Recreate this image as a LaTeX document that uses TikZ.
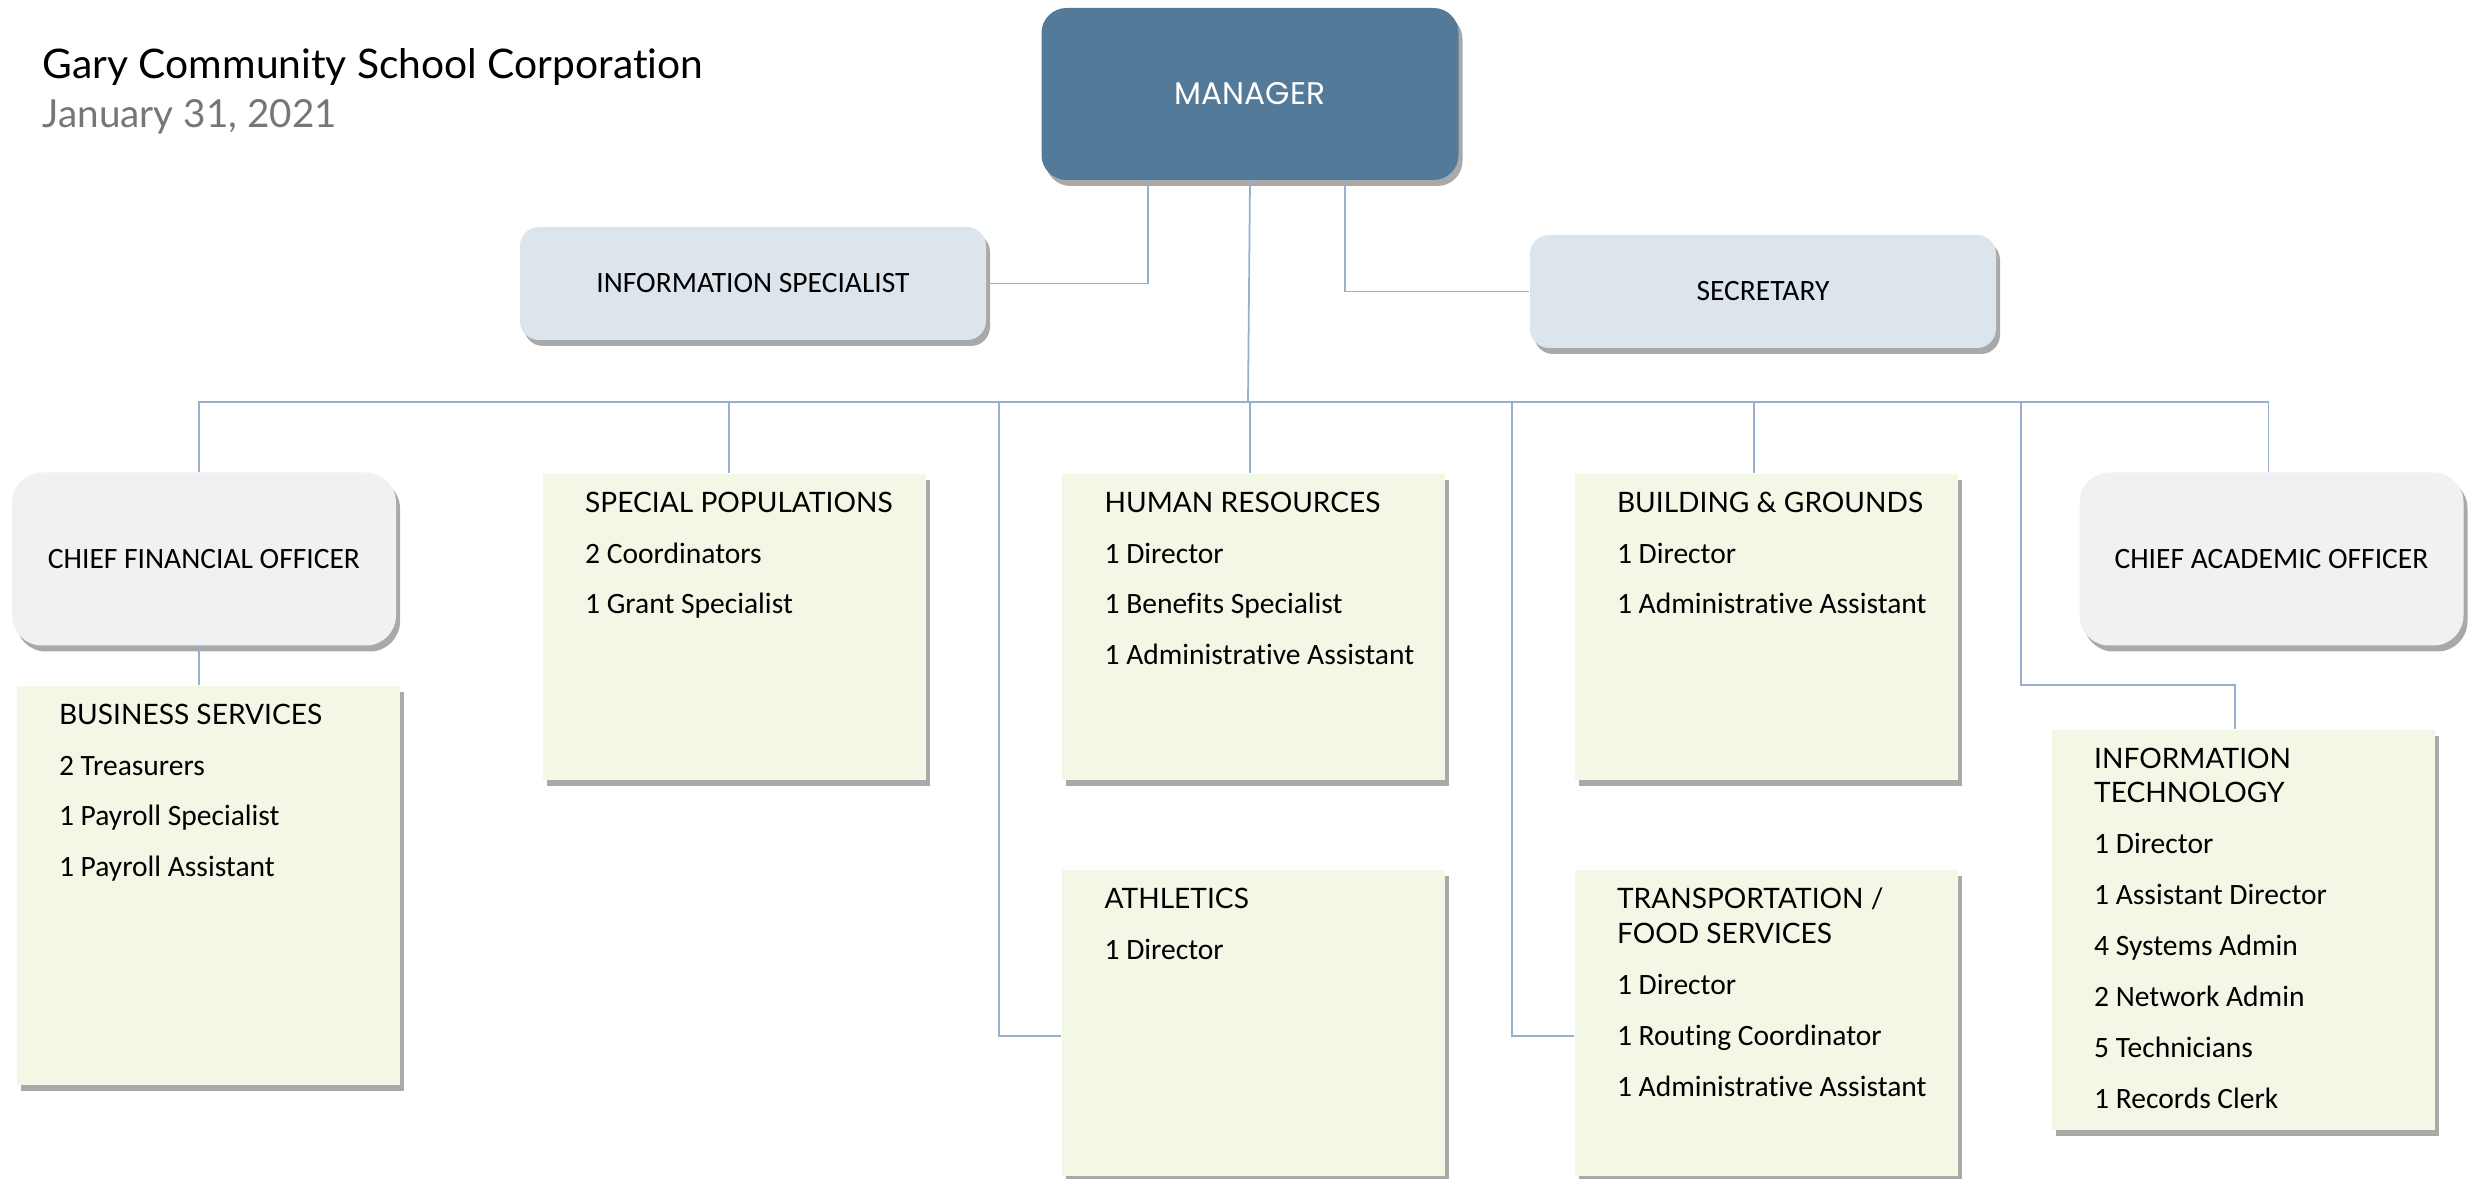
\documentclass[tikz,border=0pt]{standalone}
\usepackage{fontspec}
\setmainfont{Carlito}[Ligatures=NoCommon]
\newfontfamily\headfont{Lato}[Ligatures=NoCommon]
\newfontfamily\bossfont{Poppins}
\usetikzlibrary{positioning,shadows,calc}
\definecolor{mgrblue}{RGB}{84,122,153}
\definecolor{aideblue}{RGB}{220,228,236}
\definecolor{chiefgray}{RGB}{241,241,241}
\definecolor{deptgreen}{RGB}{242,247,230}
\definecolor{linkblue}{RGB}{150,176,205}
\definecolor{dategray}{RGB}{118,118,118}
\tikzset{
    every node/.style={font=\fontsize{8.4}{9.9}\selectfont},
    box shadow/.style={drop shadow={shadow xshift=0.04cm, shadow yshift=-0.06cm, opacity=0.45, fill=black!75}},
    boss node/.style={box shadow, rounded corners=0.25cm, fill=mgrblue, text=white, minimum width=4.17cm, minimum height=1.72cm, font=\bossfont\fontsize{8.9}{10}\selectfont},
    aide node/.style={box shadow, rounded corners=0.19cm, fill=aideblue, minimum width=4.66cm, minimum height=1.13cm},
    chief node/.style={box shadow, rounded corners=0.3cm, fill=chiefgray, minimum width=3.84cm, minimum height=1.73cm},
    dept node/.style={box shadow, fill=deptgreen, inner xsep=0pt, inner ysep=0.18cm},
    link/.style={draw=linkblue, line width=0.5pt}
}
% text block of a department box: height, heading, lines
\newcommand{\deptlines}[3]{\hspace*{0.425cm}\parbox[t][#1][t]{3.405cm}{\raggedright{\headfont\fontsize{8.0}{9.9}\selectfont #2}\\[4.6pt] #3}}

\begin{document}
\begin{tikzpicture}

    \useasboundingbox (0,0) rectangle (24.7,-11.79);

    % heading
    \node[anchor=base west, inner sep=0pt, font=\headfont\fontsize{11.6}{14}\selectfont] (title) at (0.42,-0.79) {Gary Community School Corporation};
    \node[anchor=base west, inner sep=0pt, text=dategray, font=\headfont\fontsize{11}{14}\selectfont] (date) at (0.42,-1.28) {January 31, 2021};

    % top of the chart
    \node[boss node] (mgr) at (12.50,-0.94) {MANAGER};
    \node[aide node] (info) at (7.53,-2.835) {INFORMATION SPECIALIST};
    \node[aide node] (sec) at (17.63,-2.915) {SECRETARY};

    % chiefs
    \node[chief node] (cfo) at (2.04,-5.59) {CHIEF FINANCIAL OFFICER};
    \node[chief node] (cao) at (22.715,-5.59) {CHIEF ACADEMIC OFFICER};

    % departments
    \node[dept node, anchor=north west] (sp) at (5.42,-4.73) {\deptlines{2.70cm}{SPECIAL POPULATIONS}{2 Coordinators\\[4.6pt] 1 Grant Specialist}};
    \node[dept node, right=1.35cm of sp] (hr) {\deptlines{2.70cm}{HUMAN RESOURCES}{1 Director\\[4.6pt] 1 Benefits Specialist\\[4.6pt] 1 Administrative Assistant}};
    \node[dept node, right=1.28cm of hr] (bg) {\deptlines{2.70cm}{BUILDING \& GROUNDS}{1 Director\\[4.6pt] 1 Administrative Assistant}};
    \node[dept node, below=0.89cm of hr] (ath) {\deptlines{2.70cm}{ATHLETICS}{1 Director}};
    \node[dept node, below=0.89cm of bg] (trans) {\deptlines{2.70cm}{TRANSPORTATION /\\ FOOD SERVICES}{1 Director\\[4.6pt] 1 Routing Coordinator\\[4.6pt] 1 Administrative Assistant}};
    \node[dept node, anchor=north west] (biz) at (0.158,-6.85) {\deptlines{3.63cm}{BUSINESS SERVICES}{2 Treasurers\\[4.6pt] 1 Payroll Specialist\\[4.6pt] 1 Payroll Assistant}};
    \node[dept node, anchor=north west] (it) at (20.51,-7.29) {\deptlines{3.64cm}{INFORMATION\\ TECHNOLOGY}{1 Director\\[4.6pt] 1 Assistant Director\\[4.6pt] 4 Systems Admin\\[4.6pt] 2 Network Admin\\[4.6pt] 5 Technicians\\[4.6pt] 1 Records Clerk}};

    % taps on the rail
    \coordinate (rail) at (12.48,-4.017);
    \coordinate (athtap) at (9.99,-4.017);
    \coordinate (transtap) at (15.12,-4.017);
    \coordinate (ittap) at (20.21,-4.017);
    \coordinate (itbend) at (20.21,-6.85);

    \draw[link] ([xshift=-1.02cm]mgr.south) |- (info.east);
    \draw[link] ([xshift=0.95cm]mgr.south) |- (sec.west);
    \draw[link] (mgr.south) -- (rail);
    \draw[link] ([xshift=-0.05cm]cfo.north) |- (rail) -| ([xshift=-0.03cm]cao.north);
    \draw[link] ([xshift=-0.05cm]sp.north) -- ([xshift=-0.05cm]sp.north |- rail);
    \draw[link] ([xshift=-0.04cm]hr.north) -- ([xshift=-0.04cm]hr.north |- rail);
    \draw[link] ([xshift=-0.12cm]bg.north) -- ([xshift=-0.12cm]bg.north |- rail);
    \draw[link] (athtap) |- ([yshift=-0.13cm]ath.west);
    \draw[link] (transtap) |- ([yshift=-0.13cm]trans.west);
    \draw[link] (ittap) -- (itbend) -| ([xshift=-0.08cm]it.north);
    \draw[link] ([xshift=-0.05cm]cfo.south) -- ([xshift=-0.05cm]biz.north -| cfo.south);

\end{tikzpicture}
\end{document}
